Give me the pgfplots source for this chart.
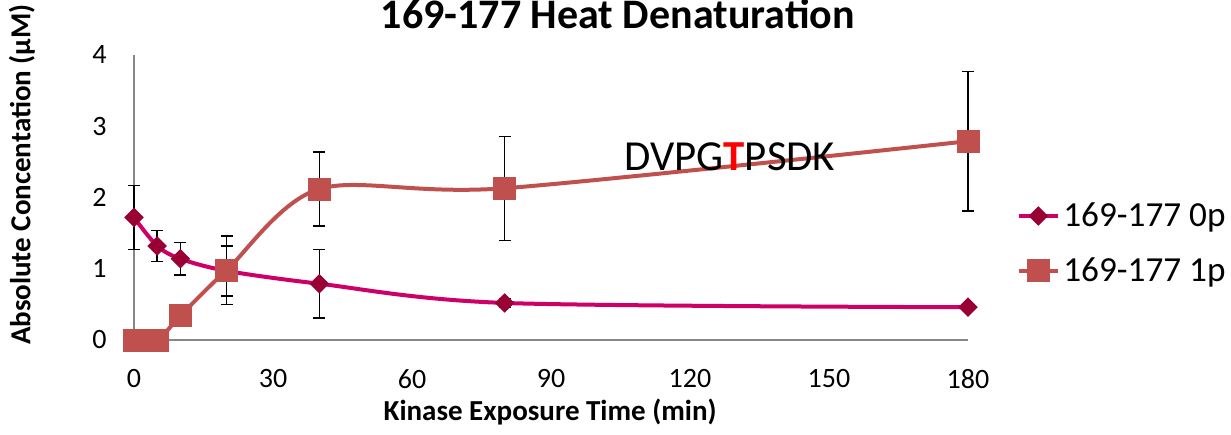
\documentclass[border=0pt]{standalone}
\usepackage{fontspec}
\setmainfont{Carlito}
\usepackage{pgfplots}
\usepackage{pgfplotstable}
\pgfplotsset{compat=1.18}
\definecolor{zeroline}{HTML}{CC0066}
\definecolor{zeromark}{HTML}{990033}
\definecolor{onep}{HTML}{C0504D}
\definecolor{axgray}{HTML}{868686}

\pgfplotstableread{
t c e
0 1.72 0.45
5 1.32 0.22
10 1.14 0.23
20 0.97 0.35
40 0.79 0.48
80 0.52 0.06
180 0.46 0.04
}\zerop

\pgfplotstableread{
t c e
0 0.00 0.00
5 0.00 0.00
10 0.34 0.00
20 0.98 0.48
40 2.12 0.52
80 2.13 0.73
180 2.79 0.98
}\onepp

\begin{document}
\begin{tikzpicture}
\path[use as bounding box] (0,0) rectangle (615.5pt,217pt);
\clip (0,0) rectangle (615.5pt,217pt);
\begin{axis}[
  at={(67pt,47pt)}, anchor=south west,
  scale only axis, width=417pt, height=142.5pt,
  xmin=0, xmax=180, ymin=0, ymax=4,
  xtick={0,30,...,180}, ytick={0,1,2,3,4},
  axis lines=left,
  axis line style={axgray, line width=0.6pt, -},
  major tick length=0pt,
  tick style={draw=none},
  clip=false,
  /pgf/number format/assume math mode=true,
  tick label style={font=\fontsize{14}{16}\selectfont, black},
  yticklabel style={anchor=east, inner sep=0pt, xshift=-13.5pt},
  xticklabel style={anchor=north, inner sep=0pt, yshift=-14.5pt},
  title={169-177 Heat Denaturation},
  title style={at={(axis description cs:0.58,1.092)}, anchor=base, yshift=-6pt, inner sep=0pt, font=\bfseries\fontsize{21}{24}\selectfont},
  xlabel={Kinase Exposure Time (min)},
  xlabel style={at={(axis description cs:0.499,-0.2526)}, anchor=center, font=\bfseries\fontsize{14.5}{16}\selectfont},
  ylabel={Absolute Concentation (μM)},
  ylabel style={at={(axis description cs:-0.1343,0.58)}, anchor=center, font=\bfseries\fontsize{14.5}{16}\selectfont},
  legend style={at={(1.0587,0.339)}, anchor=west, draw=none, fill=none, inner sep=0pt,
    font=\fontsize{17.6}{20}\selectfont, row sep=10pt},
  legend cell align=left,
  legend image code/.code={
    \draw[mark repeat=2,mark phase=2,#1] plot coordinates {(0pt,0pt) (9.5pt,0pt) (19pt,0pt)};
  },
]
\addplot[zeroline, line width=2pt, smooth, mark=square*,
  mark options={zeromark, fill=zeromark, rotate=45, mark size=3.2pt, solid, line width=0.5pt},
  error bars/.cd, y dir=both, y explicit,
  error bar style={black, line width=0.7pt},
  error mark options={black, rotate=90, mark size=3pt, line width=0.7pt}]
  table[x=t, y=c, y error=e] {\zerop};
\addlegendentry{169-177 0p}
\addplot[onep, line width=2pt, smooth, mark=square*,
  mark options={onep, fill=onep, mark size=5.5pt, solid, line width=0.3pt},
  error bars/.cd, y dir=both, y explicit,
  error bar style={black, line width=0.7pt},
  error mark options={black, rotate=90, mark size=3pt, line width=0.7pt}]
  table[x=t, y=c, y error=e] {\onepp};
\addlegendentry{169-177 1p}
\node[font=\fontsize{21.4}{24}\selectfont] at (axis cs:128.6,2.57) {DVPG{\color{red}\bfseries T}PSDK};
\end{axis}
\end{tikzpicture}
\end{document}
